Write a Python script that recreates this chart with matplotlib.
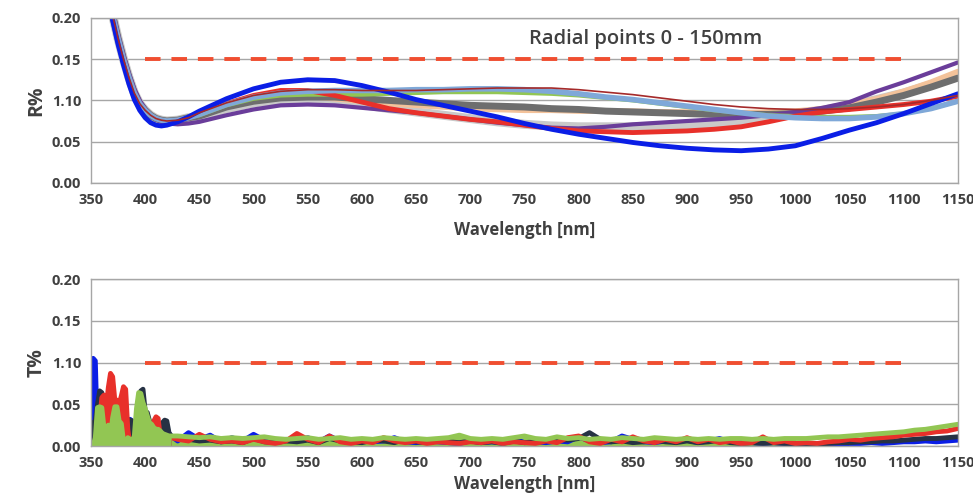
import matplotlib
matplotlib.use('Agg')
import matplotlib.pyplot as plt
import numpy as np

# ---------------- data ----------------
# reflectance curves (top panel)
wl_r = [360, 365, 370, 375, 380, 385, 390, 395, 400, 405, 410, 415, 420, 430, 440,
        450, 475, 500, 525, 550, 575, 600, 625, 650, 675, 700, 725, 750, 775, 800,
        825, 850, 875, 900, 925, 950, 975, 1000, 1025, 1050, 1075, 1100, 1125, 1150]

drop = [0.270, 0.235, 0.203, 0.175, 0.150, 0.128, 0.109, 0.096, 0.088, 0.082, 0.078, 0.076, 0.075, 0.076, 0.079]

r_blue = [0.265, 0.230, 0.197, 0.168, 0.143, 0.120, 0.101, 0.088, 0.079, 0.073, 0.070, 0.069, 0.070, 0.074, 0.080,
          0.087, 0.102, 0.114, 0.122, 0.125, 0.124, 0.118, 0.110, 0.101, 0.094, 0.087, 0.080, 0.072, 0.065, 0.059,
          0.054, 0.049, 0.045, 0.042, 0.040, 0.039, 0.041, 0.045, 0.054, 0.064, 0.073, 0.084, 0.096, 0.108]
r_red = drop + [0.084, 0.096, 0.106, 0.112, 0.112, 0.106, 0.098, 0.090, 0.085, 0.081, 0.077, 0.074, 0.070, 0.066, 0.063,
                0.062, 0.061, 0.062, 0.063, 0.065, 0.068, 0.074, 0.081, 0.086, 0.089, 0.092, 0.095, 0.099, 0.105]
r_darkred = drop + [0.085, 0.097, 0.106, 0.111, 0.113, 0.113, 0.112, 0.112, 0.112, 0.113, 0.114, 0.115, 0.115, 0.115, 0.113,
                    0.110, 0.107, 0.103, 0.099, 0.095, 0.092, 0.090, 0.089, 0.089, 0.090, 0.092, 0.095, 0.100, 0.106]
r_lightblue = drop + [0.083, 0.095, 0.104, 0.109, 0.111, 0.112, 0.112, 0.112, 0.113, 0.113, 0.114, 0.114, 0.113, 0.111, 0.108,
                      0.104, 0.101, 0.097, 0.093, 0.089, 0.085, 0.081, 0.079, 0.078, 0.078, 0.080, 0.084, 0.090, 0.099]
r_green = drop + [0.082, 0.094, 0.102, 0.106, 0.107, 0.107, 0.107, 0.108, 0.109, 0.110, 0.110, 0.110, 0.109, 0.108, 0.106,
                  0.103, 0.100, 0.096, 0.092, 0.088, 0.085, 0.082, 0.081, 0.080, 0.080, 0.081, 0.084, 0.090, 0.099]
r_darkgrey = drop + [0.081, 0.092, 0.099, 0.103, 0.104, 0.104, 0.102, 0.100, 0.098, 0.096, 0.094, 0.093, 0.092, 0.090, 0.089,
                     0.087, 0.086, 0.085, 0.084, 0.083, 0.083, 0.083, 0.084, 0.087, 0.091, 0.098, 0.106, 0.116, 0.127]
r_peach = drop + [0.082, 0.093, 0.100, 0.104, 0.105, 0.102, 0.099, 0.096, 0.094, 0.092, 0.090, 0.089, 0.088, 0.088, 0.087,
                  0.087, 0.087, 0.086, 0.086, 0.085, 0.085, 0.086, 0.087, 0.090, 0.095, 0.102, 0.111, 0.122, 0.135]
r_lightgrey = drop + [0.080, 0.090, 0.097, 0.100, 0.101, 0.099, 0.095, 0.090, 0.086, 0.082, 0.078, 0.074, 0.071, 0.069, 0.068,
                      0.068, 0.068, 0.069, 0.070, 0.072, 0.075, 0.079, 0.083, 0.088, 0.094, 0.101, 0.109, 0.119, 0.131]
r_purple = [0.275, 0.240, 0.208, 0.180, 0.155, 0.133, 0.114, 0.100, 0.090, 0.082, 0.077, 0.074, 0.072, 0.071, 0.072,
            0.074, 0.082, 0.089, 0.094, 0.095, 0.094, 0.091, 0.088, 0.085, 0.081, 0.077, 0.073, 0.070, 0.067, 0.066,
            0.068, 0.071, 0.073, 0.075, 0.077, 0.079, 0.082, 0.086, 0.091, 0.098, 0.111, 0.122, 0.134, 0.146]

# transmittance curves (bottom panel)
wl_t = list(range(350, 426, 2)) + list(range(430, 1151, 10))

t_blue = [0.000, 0.105, 0.102, 0.010, 0.000, 0.002, 0.000, 0.003, 0.000, 0.002, 0.000, 0.004, 0.002, 0.000, 0.003,
          0.002, 0.010, 0.026, 0.032, 0.030, 0.005, 0.002, 0.004, 0.003, 0.006, 0.004, 0.008, 0.006, 0.004, 0.008,
          0.010, 0.006, 0.012, 0.014, 0.010, 0.012, 0.015, 0.012,
          0.006, 0.016, 0.008, 0.013, 0.005, 0.010, 0.006, 0.014, 0.007, 0.005, 0.008, 0.006, 0.010, 0.005, 0.012,
          0.006, 0.004, 0.008, 0.005, 0.006, 0.010, 0.005, 0.004, 0.006, 0.005, 0.004, 0.003, 0.006, 0.004, 0.005,
          0.004, 0.009, 0.004, 0.005, 0.004, 0.006, 0.005, 0.011, 0.006, 0.004, 0.005, 0.012, 0.008, 0.005, 0.004,
          0.006, 0.005, 0.007, 0.004, 0.006, 0.009, 0.005, 0.007, 0.004, 0.003, 0.004, 0.003, 0.003, 0.002, 0.002,
          0.003, 0.002, 0.003, 0.003, 0.004, 0.003, 0.004, 0.005, 0.005, 0.006, 0.005, 0.006, 0.007]
t_navy = [0.000, 0.028, 0.030, 0.050, 0.066, 0.064, 0.045, 0.020, 0.010, 0.020, 0.045, 0.040, 0.030, 0.020, 0.010,
          0.020, 0.025, 0.030, 0.031, 0.030, 0.028, 0.010, 0.040, 0.066, 0.068, 0.042, 0.040, 0.030, 0.022, 0.018,
          0.015, 0.014, 0.020, 0.028, 0.031, 0.030, 0.016, 0.012,
          0.010, 0.008, 0.006, 0.007, 0.005, 0.006, 0.004, 0.009, 0.005, 0.004, 0.006, 0.005, 0.007, 0.004, 0.009,
          0.006, 0.005, 0.004, 0.007, 0.006, 0.004, 0.008, 0.005, 0.004, 0.006, 0.005, 0.004, 0.006, 0.004, 0.005,
          0.003, 0.006, 0.004, 0.005, 0.006, 0.008, 0.007, 0.009, 0.016, 0.008, 0.005, 0.006, 0.004, 0.005, 0.007,
          0.005, 0.004, 0.006, 0.004, 0.005, 0.007, 0.004, 0.003, 0.004, 0.003, 0.004, 0.003, 0.003, 0.003, 0.002,
          0.003, 0.004, 0.004, 0.005, 0.005, 0.006, 0.006, 0.007, 0.008, 0.009, 0.009, 0.010, 0.011]
t_red = [0.002, 0.000, 0.000, 0.005, 0.030, 0.058, 0.061, 0.045, 0.070, 0.087, 0.083, 0.055, 0.055, 0.050, 0.060,
         0.071, 0.068, 0.020, 0.000, 0.000, 0.000, 0.000, 0.000, 0.005, 0.012, 0.020, 0.020, 0.015, 0.020, 0.030,
         0.035, 0.033, 0.010, 0.005, 0.008, 0.012, 0.008, 0.010,
         0.008, 0.006, 0.014, 0.008, 0.005, 0.006, 0.004, 0.008, 0.005, 0.003, 0.006, 0.015, 0.008, 0.004, 0.012,
         0.005, 0.003, 0.006, 0.004, 0.010, 0.006, 0.004, 0.006, 0.003, 0.005, 0.004, 0.003, 0.005, 0.004, 0.006,
         0.003, 0.005, 0.004, 0.003, 0.006, 0.004, 0.010, 0.012, 0.005, 0.003, 0.008, 0.005, 0.011, 0.006, 0.004,
         0.008, 0.005, 0.010, 0.005, 0.008, 0.004, 0.006, 0.003, 0.004, 0.011, 0.004, 0.006, 0.003, 0.004, 0.003,
         0.005, 0.006, 0.008, 0.007, 0.009, 0.010, 0.011, 0.013, 0.014, 0.015, 0.017, 0.018, 0.021]
t_green = [0.000, 0.000, 0.010, 0.046, 0.047, 0.046, 0.022, 0.018, 0.025, 0.012, 0.034, 0.047, 0.047, 0.030, 0.027,
           0.006, 0.004, 0.010, 0.008, 0.006, 0.012, 0.045, 0.064, 0.063, 0.052, 0.045, 0.036, 0.028, 0.026, 0.022,
           0.020, 0.020, 0.018, 0.015, 0.014, 0.013, 0.012, 0.012,
           0.012, 0.011, 0.010, 0.011, 0.009, 0.010, 0.009, 0.010, 0.011, 0.009, 0.008, 0.009, 0.010, 0.008, 0.009,
           0.010, 0.008, 0.009, 0.008, 0.010, 0.009, 0.008, 0.009, 0.008, 0.009, 0.010, 0.013, 0.009, 0.008, 0.009,
           0.008, 0.010, 0.012, 0.009, 0.008, 0.011, 0.009, 0.010, 0.008, 0.009, 0.008, 0.010, 0.009, 0.008, 0.010,
           0.009, 0.008, 0.009, 0.008, 0.009, 0.008, 0.009, 0.009, 0.008, 0.009, 0.008, 0.009, 0.009, 0.009, 0.010,
           0.011, 0.011, 0.012, 0.013, 0.014, 0.015, 0.016, 0.017, 0.019, 0.020, 0.022, 0.024, 0.026]

ytick_vals = [0.00, 0.05, 0.10, 0.15, 0.20]
ytick_labels = ['0.00', '0.05', '1.10', '0.15', '0.20']
xtick_vals = list(range(350, 1151, 50))
spec_r = 0.15
spec_t = 0.10
spec_range = [400, 1100]

# ---------------- style ----------------
plt.rcParams['font.family'] = ['Open Sans', 'DejaVu Sans']
txt_color = '#404040'
grid_color = '#A6A6A6'
spec_color = '#F04E30'

fig = plt.figure(figsize=(9.73, 4.97), dpi=100, facecolor='w')
ax1 = fig.add_axes([0.0935, 0.632, 0.891, 0.332])
ax2 = fig.add_axes([0.0935, 0.1026, 0.891, 0.336])


def style_axis(ax, ylabel, xpad):
    ax.set_xlim(350, 1150)
    ax.set_ylim(0, 0.20)
    ax.set_yticks(ytick_vals)
    ax.set_yticklabels(ytick_labels)
    ax.set_xticks(xtick_vals)
    ax.yaxis.grid(True, color=grid_color, lw=1.0)
    ax.set_axisbelow(True)
    for s in ax.spines.values():
        s.set_color(grid_color)
        s.set_linewidth(1.0)
    ax.tick_params(length=0, labelsize=10.5, colors=txt_color, pad=7)
    for lab in ax.get_xticklabels() + ax.get_yticklabels():
        lab.set_fontweight('bold')
    ax.set_ylabel(ylabel, fontsize=14, fontweight='bold', color=txt_color, labelpad=4)
    ax.set_xlabel('Wavelength [nm]', fontsize=12, fontweight='bold', color=txt_color, labelpad=xpad)


# top panel
top_curves = [
    (r_lightgrey, '#C9C9C9', 6.5),
    (r_peach, '#F3C29A', 4.0),
    (r_darkgrey, '#6E6E6E', 5.0),
    (r_purple, '#6A3D9A', 3.0),
    (r_green, '#92C653', 3.0),
    (r_red, '#E8302A', 3.5),
    (r_lightblue, '#7FA8D8', 4.0),
    (r_blue, '#0A1EE6', 3.5),
    (r_darkred, '#A52A2A', 1.2),
]
for vals, col, lw in top_curves:
    ax1.plot(wl_r, vals, color=col, lw=lw, solid_capstyle='round', solid_joinstyle='round')
ax1.plot(spec_range, [spec_r, spec_r], color=spec_color, lw=2.8, dashes=(4, 2.8))
ax1.text(862, 0.175, 'Radial points 0 - 150mm', fontsize=14.5, fontweight='semibold',
         color=txt_color, ha='center', va='center')
style_axis(ax1, 'R%', 10)

# bottom panel
wl_t_arr = np.array(wl_t)
ax2.fill_between(wl_t_arr, 0, np.array(t_green), where=(wl_t_arr >= 424) & (wl_t_arr <= 1000),
                 color='#92C653', lw=0, zorder=1)
bottom_curves = [
    (t_blue, '#0A1EE6'),
    (t_navy, '#263244'),
    (t_red, '#E8302A'),
    (t_green, '#92C653'),
]
for vals, col in bottom_curves:
    v = np.array(vals)
    ax2.fill_between(wl_t_arr, 0, v, where=wl_t_arr <= 426, color=col, lw=0, zorder=2)
    ax2.plot(wl_t, vals, color=col, lw=3.5, solid_capstyle='round', solid_joinstyle='round', zorder=2)
ax2.plot(spec_range, [spec_t, spec_t], color=spec_color, lw=2.8, dashes=(4, 2.8))
style_axis(ax2, 'T%', 4)

fig.savefig('out.png', dpi=100)
